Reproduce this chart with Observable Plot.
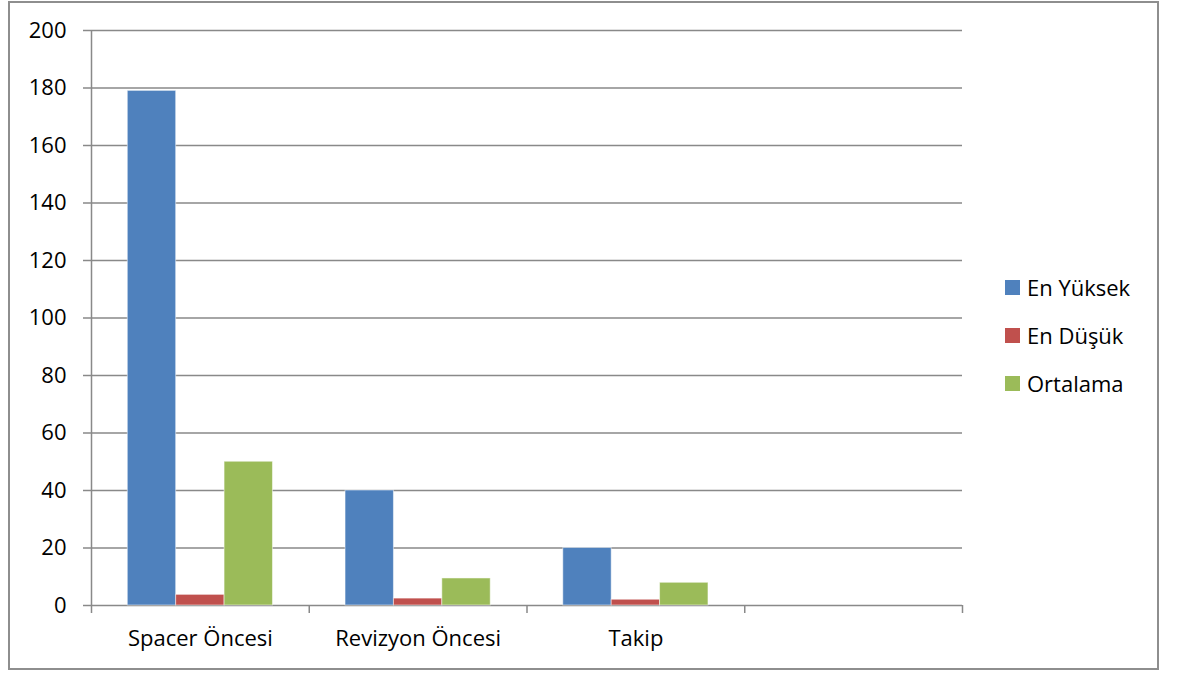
<!DOCTYPE html>
<html>
<head>
<meta charset="utf-8">
<script src="https://cdn.jsdelivr.net/npm/d3@7"></script>
<script src="https://cdn.jsdelivr.net/npm/@observablehq/plot@0.6"></script>
<style>
  html, body { margin: 0; padding: 0; background: #fff; }
  #wrap { position: relative; width: 1177px; height: 675px; font-family: "Open Sans", Lato, sans-serif; }
  #border { position: absolute; left: 8px; top: 1px; width: 1151px; height: 669px; border: 2px solid #8e8e8e; box-sizing: border-box; pointer-events: none; }
  #legend { position: absolute; left: 1005px; top: 273px; display: flex; flex-direction: column; gap: 20px; font-size: 22px; color: #000; }
  #legend .item { display: flex; align-items: center; height: 28px; }
  #legend .swatch { width: 15px; height: 15px; margin-right: 7px; }
</style>
</head>
<body>
<div id="wrap">
  <div id="chart"></div>
  <div id="legend"></div>
  <div id="border"></div>
</div>
<script>
// Categories along the horizontal axis (the last slot is left empty)
const categories = ["Spacer Öncesi", "Revizyon Öncesi", "Takip", ""];
// Series names and colours
const series = ["En Yüksek", "En Düşük", "Ortalama"];
const colors = ["#4f81bd", "#c0504d", "#9bbb59"];
// Values per series, one per filled category
const enYuksek = [179, 40, 20];
const enDusuk = [3.7, 2.4, 2.0];
const ortalama = [50, 9.4, 7.9];
// Vertical axis ticks
const yTicks = [0, 20, 40, 60, 80, 100, 120, 140, 160, 180, 200];

const valuesBySeries = [enYuksek, enDusuk, ortalama];
const rows = [];
valuesBySeries.forEach((vals, j) => {
  vals.forEach((v, i) => rows.push({index: i, category: categories[i], series: series[j], value: v}));
});

// Sub-band for the three series inside one category unit (gap width 150%)
const sub = d3.scaleBand().domain(series).range([0, 1]).paddingInner(0).paddingOuter(0.75);

const gray = "#898989";
const font = "'Open Sans', Lato, sans-serif";

const chart = Plot.plot({
  width: 1177,
  height: 675,
  marginLeft: 91,
  marginRight: 215,
  marginTop: 30,
  marginBottom: 70,
  style: {fontFamily: font, fontSize: "22px", color: "#000", background: "transparent"},
  x: {type: "linear", domain: [0, categories.length], axis: null},
  y: {domain: [0, 200], axis: null},
  color: {domain: series, range: colors},
  marks: [
    Plot.ruleY(yTicks, {stroke: gray, strokeWidth: 1.5}),
    Plot.ruleX([0], {stroke: gray, strokeWidth: 1.5}),
    Plot.axisY({ticks: yTicks, label: null, tickSize: 8, tickPadding: 17, stroke: gray, strokeWidth: 1.5, fill: "#000", fontSize: 22}),
    Plot.axisX({ticks: d3.range(categories.length + 1), label: null, tickSize: 8, tickFormat: () => "", stroke: gray, strokeWidth: 1.5}),
    Plot.axisX({
      ticks: categories.map((c, i) => i + 0.5),
      label: null,
      tickSize: 0,
      tickPadding: 25,
      tickFormat: d => categories[Math.floor(d)],
      fill: "#000",
      fontSize: 22
    }),
    Plot.rectY(rows, {
      x1: d => d.index + sub(d.series),
      x2: d => d.index + sub(d.series) + sub.bandwidth(),
      y: "value",
      fill: "series",
      stroke: "#ffffff",
      strokeOpacity: 0.5,
      strokeWidth: 1
    })
  ]
});
document.getElementById("chart").append(chart);

// Legend
const legend = d3.select("#legend");
series.forEach((s, j) => {
  const item = legend.append("div").attr("class", "item");
  item.append("div").attr("class", "swatch").style("background", colors[j]);
  item.append("span").text(s);
});
</script>
</body>
</html>
